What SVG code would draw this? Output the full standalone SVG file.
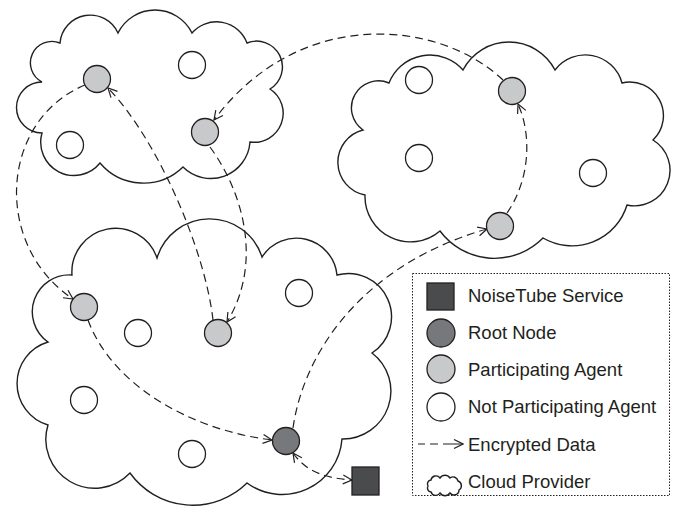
<svg xmlns="http://www.w3.org/2000/svg" width="677" height="507" viewBox="0 0 677 507">
<style>
.cloud{fill:#fff;stroke:#231f20;stroke-width:1.4}
.node{stroke:#231f20;stroke-width:1.3}
.part{fill:#c8c9cb}
.nonp{fill:#fff}
.root{fill:#77787b}
.svc{fill:#4a4b4d}
.conn{fill:none;stroke:#231f20;stroke-width:1.2;stroke-dasharray:8 5}
.solid{fill:none;stroke:#231f20;stroke-width:1.2}
.lbl{font-family:"Liberation Sans",Arial,sans-serif;font-size:18.5px;fill:#231f20}
.legbox{fill:#fff;stroke:#231f20;stroke-width:1;stroke-dasharray:1.5 1.5}
</style>
<defs>
<marker id="arr" viewBox="0 0 11 11" refX="10" refY="5.5" markerWidth="11" markerHeight="11" markerUnits="userSpaceOnUse" orient="auto-start-reverse">
<path d="M1,1 L10,5.5 L1,10" fill="none" stroke="#231f20" stroke-width="1.2"/>
</marker>
</defs>
<g id="cloud-top-left"><path class="cloud" d="M60,43 A30.4,30.4 0 0 1 118,33 A41.3,41.3 0 0 1 192,33 A32.5,32.5 0 0 1 247,43 A25.8,25.8 0 0 1 270,89 A29,29 0 0 1 250,142 A39.3,39.3 0 0 1 183,167 A56.8,56.8 0 0 1 100,163 A33.3,33.3 0 0 1 42,133 A25.5,25.5 0 0 1 42,82 A21.5,21.5 0 0 1 60,43 Z"/></g>
<g id="cloud-top-right"><path class="cloud" d="M389,83 A44,44 0 0 1 463,70 A51.8,51.8 0 0 1 555,70 A38,38 0 0 1 622,83 A33.6,33.6 0 0 1 653,140 A35.5,35.5 0 0 1 627,205 A57.5,57.5 0 0 1 543,238 A68,68 0 0 1 440,231 A45.5,45.5 0 0 1 365,195 A33.3,33.3 0 0 1 363,130 A27,27 0 0 1 389,83 Z"/></g>
<g id="cloud-bottom"><path class="cloud" d="M72,275 A43.7,43.7 0 0 1 157,258 A55,55 0 0 1 262,257 A40.8,40.8 0 0 1 337,275 A43.3,43.3 0 0 1 372,353 A47.9,47.9 0 0 1 342,439 A59.9,59.9 0 0 1 247,483 A77.3,77.3 0 0 1 130,473 A48.8,48.8 0 0 1 48,425 A43.3,43.3 0 0 1 48,342 A36.9,36.9 0 0 1 72,275 Z"/></g>
<g id="connectors">
<path class="conn" marker-end="url(#arr)" d="M503,80 C440,20 300,5 214,120"/>
<path class="conn" marker-end="url(#arr)" d="M210,147 C245,195 262,265 227,322"/>
<path class="conn" marker-end="url(#arr)" d="M213,320 C205,250 158,140 108,88"/>
<path class="conn" marker-end="url(#arr)" d="M85,85 C0,120 -8,245 73,299"/>
<path class="conn" marker-end="url(#arr)" d="M88,320 C112,385 190,430 272,440"/>
<path class="conn" marker-end="url(#arr)" d="M293,428 C305,345 370,262 487,229"/>
<path class="conn" marker-end="url(#arr)" d="M507,213 C530,180 532,135 518,104"/>
<path class="conn" marker-start="url(#arr)" marker-end="url(#arr)" d="M293,453 C305,470 322,478 352,480"/>
</g>
<g id="n-tl-1"><circle class="node part" cx="97" cy="79" r="13.5"/></g>
<g id="n-tl-2"><circle class="node nonp" cx="192" cy="65" r="13.5"/></g>
<g id="n-tl-3"><circle class="node part" cx="205" cy="132" r="13.5"/></g>
<g id="n-tl-4"><circle class="node nonp" cx="70" cy="145" r="13.5"/></g>
<g id="n-tr-1"><circle class="node nonp" cx="419" cy="80" r="13.5"/></g>
<g id="n-tr-2"><circle class="node part" cx="512" cy="91" r="13.5"/></g>
<g id="n-tr-3"><circle class="node nonp" cx="419" cy="158" r="13.5"/></g>
<g id="n-tr-4"><circle class="node nonp" cx="593" cy="173" r="13.5"/></g>
<g id="n-tr-5"><circle class="node part" cx="500" cy="226" r="13.5"/></g>
<g id="n-b-1"><circle class="node part" cx="84" cy="307" r="13.5"/></g>
<g id="n-b-2"><circle class="node nonp" cx="138" cy="333" r="13.5"/></g>
<g id="n-b-3"><circle class="node part" cx="218" cy="333" r="13.5"/></g>
<g id="n-b-4"><circle class="node nonp" cx="299" cy="293" r="13.5"/></g>
<g id="n-b-5"><circle class="node nonp" cx="84" cy="400" r="13.5"/></g>
<g id="n-b-6"><circle class="node nonp" cx="192" cy="454" r="13.5"/></g>
<g id="n-root"><circle class="node root" cx="286" cy="441" r="13.5"/></g>
<g id="n-service"><rect class="node svc" x="352" y="467" width="27" height="28"/></g>
<g id="legend">
<rect class="legbox" x="412.5" y="273.5" width="257" height="222"/>
<rect class="node svc" x="427" y="283" width="27" height="27"/>
<text class="lbl" x="468" y="302">NoiseTube Service</text>
<circle class="node root" cx="441" cy="333" r="14"/>
<text class="lbl" x="468" y="339">Root Node</text>
<circle class="node part" cx="441" cy="369" r="14"/>
<text class="lbl" x="468" y="376">Participating Agent</text>
<circle class="node nonp" cx="441" cy="407" r="14"/>
<text class="lbl" x="468" y="413">Not Participating Agent</text>
<path class="solid" marker-end="url(#arr)" d="M418,444 H425 M430,444 H438 M443,444 H463"/>
<text class="lbl" x="468" y="451">Encrypted Data</text>
<path class="cloud" stroke-width="1" d="M431,480 A5,5 0 0 1 440,478 A6,6 0 0 1 450,478 A5,5 0 0 1 458,481 A5,5 0 0 1 459,490 A5,5 0 0 1 450,493 A6,6 0 0 1 440,493 A5,5 0 0 1 431,492 A4,4 0 0 1 428,486 A4,4 0 0 1 431,480 Z"/>
<text class="lbl" x="468" y="488">Cloud Provider</text>
</g>
</svg>
